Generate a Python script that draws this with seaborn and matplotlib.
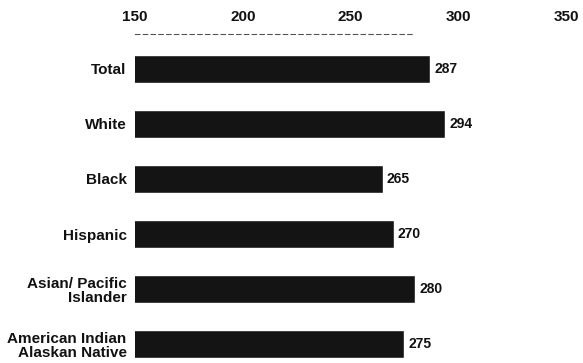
import matplotlib
matplotlib.use("Agg")
import matplotlib.pyplot as plt
import seaborn as sns
import pandas as pd

categories = ["Total", "White", "Black", "Hispanic",
              "Asian/ Pacific\nIslander", "American Indian\nAlaskan Native"]
scores = [287, 294, 265, 270, 280, 275]
x_ticks = [150, 200, 250, 300, 350]

sns.set_theme(style="white")
plt.rcParams['font.family'] = ['Liberation Sans', 'DejaVu Sans']

df = pd.DataFrame({"group": categories, "score": scores})

W, H = 583, 363
fig = plt.figure(figsize=(W / 100, H / 100), dpi=100)
ax = fig.add_axes([135 / W, 0, (566 - 135) / W, 1 - 34 / H])

sns.barplot(data=df, x="score", y="group", orient="h", color="#141414",
            saturation=1, width=0.51, ax=ax)

ax.set_xlim(150, 350)
ax.set_ylim(5.345, -0.636)
ax.set_xlabel("")
ax.set_ylabel("")

ax.xaxis.tick_top()
ax.set_xticks(x_ticks)
ax.set_xticklabels([str(t) for t in x_ticks], fontsize=11, fontweight="bold")
ax.tick_params(axis="x", length=0, pad=7, colors="#111111")
ax.tick_params(axis="y", length=0, pad=6, colors="#111111")
for lbl in ax.get_yticklabels():
    lbl.set_fontsize(11)
    lbl.set_fontweight("bold")
    lbl.set_linespacing(1.0)

for side in ["right", "bottom", "left"]:
    ax.spines[side].set_visible(False)
ax.spines["top"].set_linestyle((0, (4, 3)))
ax.spines["top"].set_linewidth(0.8)
ax.spines["top"].set_color("#555555")
ax.spines["top"].set_bounds(150, 280)

ax.bar_label(ax.containers[0], labels=[str(v) for v in scores], padding=3,
             fontsize=10, fontweight="bold", color="#111111")

fig.savefig("out.png", dpi=100)
